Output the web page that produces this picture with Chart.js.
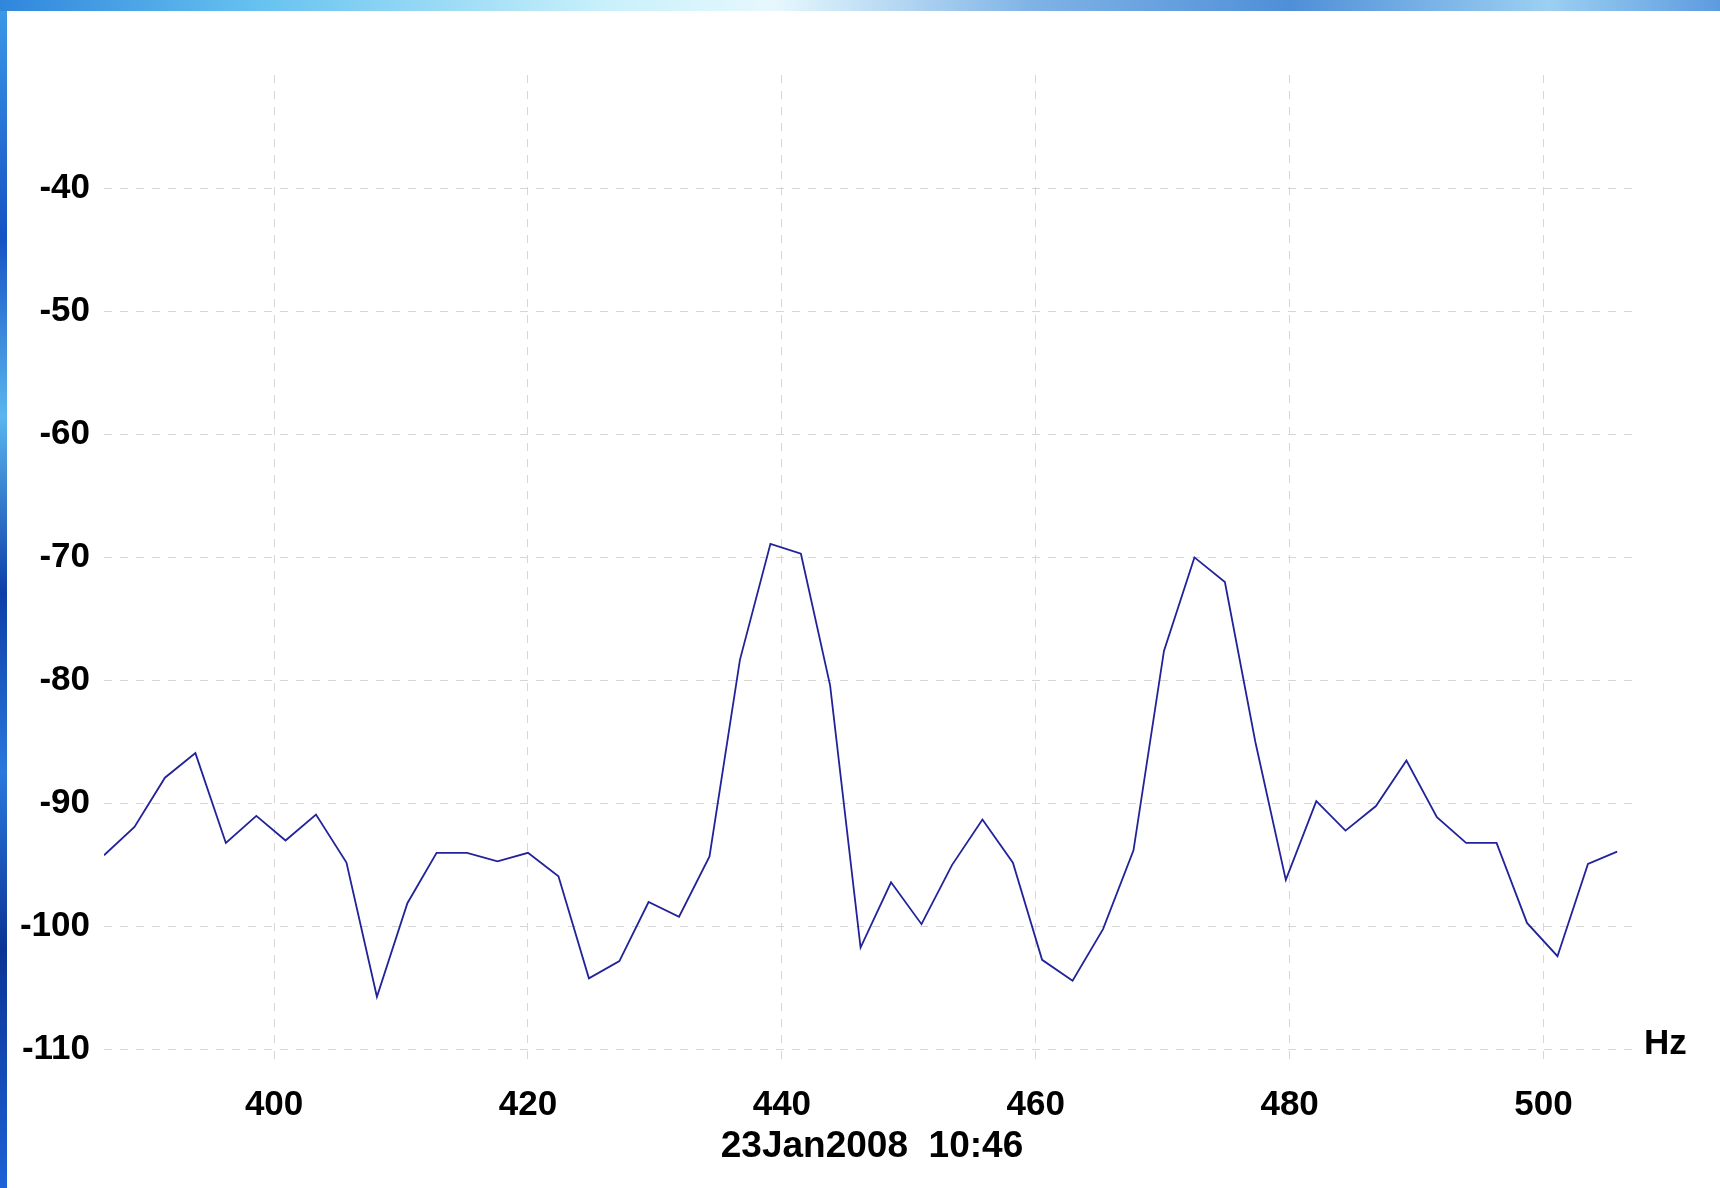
<!DOCTYPE html>
<html>
<head>
<meta charset="utf-8">
<script src="https://cdn.jsdelivr.net/npm/chart.js@4.4.0/dist/chart.umd.min.js"></script>
<style>
  html, body { margin: 0; padding: 0; }
  body {
    width: 1720px; height: 1188px; overflow: hidden; position: relative;
    background: linear-gradient(180deg, #3d9be8 0%, #1552c4 20%, #5ab6ee 35%, #0c3ea8 50%, #2a78dc 65%, #0a3494 80%, #1d62d6 100%);
  }
  #topstrip {
    position: absolute; left: 0; top: 0; width: 1720px; height: 11px;
    background: linear-gradient(90deg, #2f86dc 0%, #66c2f0 15%, #c8f0fb 35%, #e6f8fd 45%, #7fb3e6 60%, #4f8fd8 75%, #9cd0f2 90%, #5d9be0 100%);
  }
  #panel { position: absolute; left: 7px; top: 11px; right: 0; bottom: 0; background: #fff; }
  #wrap { position: absolute; left: 0; top: 0; width: 1720px; height: 1188px; }
</style>
</head>
<body>
<div id="topstrip"></div>
<div id="panel"></div>
<div id="wrap"><canvas id="spectrum"></canvas></div>
<script>
// valori (Hz, dB)
const freqs = [386.6, 389.0, 391.4, 393.8, 396.2, 398.6, 400.9, 403.3, 405.7, 408.1,
  410.5, 412.8, 415.2, 417.6, 420.0, 422.4, 424.8, 427.2, 429.5, 431.9,
  434.3, 436.7, 439.1, 441.5, 443.8, 446.2, 448.6, 451.0, 453.4, 455.8,
  458.2, 460.5, 462.9, 465.3, 467.7, 470.1, 472.5, 474.9, 477.3, 479.7,
  482.1, 484.4, 486.8, 489.2, 491.6, 493.9, 496.3, 498.7, 501.1, 503.5, 505.8];

const levels = [-94.2, -91.9, -87.9, -85.9, -93.2, -91.0, -93.0, -90.9, -94.8, -105.7,
  -98.1, -94.0, -94.0, -94.7, -94.0, -95.9, -104.2, -102.8, -98.0, -99.2,
  -94.3, -78.3, -68.9, -69.7, -80.4, -101.7, -96.4, -99.8, -95.0, -91.3,
  -94.8, -102.7, -104.4, -100.2, -93.8, -77.6, -70.0, -72.0, -85.0, -96.2,
  -89.8, -92.2, -90.2, -86.5, -91.1, -93.2, -93.2, -99.7, -102.4, -94.9, -93.9];

const xTicks = [400, 420, 440, 460, 480, 500];
const yTicks = [-40, -50, -60, -70, -80, -90, -100, -110];

const dateLabel = '23Jan2008  10:46';
const unitLabel = 'Hz';

const tickFont = { family: 'Liberation Sans, Arial, sans-serif', weight: 'bold', size: 35 };

/* scritta "Hz" a destra della griglia */
const unitPlugin = {
  id: 'unitLabel',
  afterDraw(chart) {
    const ctx = chart.ctx;
    const y = chart.scales.y.getPixelForValue(-110);
    ctx.save();
    ctx.font = 'bold 35px Liberation Sans, Arial, sans-serif';
    ctx.fillStyle = '#000';
    ctx.textAlign = 'left';
    ctx.textBaseline = 'alphabetic';
    ctx.fillText(unitLabel, chart.chartArea.right + 4, y + 4);
    ctx.restore();
  }
};

const ctx = document.getElementById('spectrum');

const data = {
  datasets: [{
    label: 'level',
    data: freqs.map((f, i) => ({ x: f, y: levels[i] })),
    borderColor: '#22229a',
    borderWidth: 1.8,
    pointRadius: 0,
    tension: 0,
    fill: false
  }]
};

const config = {
  type: 'line',
  data: data,
  options: {
    responsive: true,
    maintainAspectRatio: false,
    animation: false,
    layout: { padding: { top: 75, right: 80, left: 0, bottom: 0 } },
    plugins: {
      legend: { display: false },
      tooltip: { enabled: false }
    },
    scales: {
      x: {
        type: 'linear',
        min: 386.6,
        max: 507.6,
        afterBuildTicks: s => { s.ticks = xTicks.map(v => ({ value: v })); },
        afterFit: s => { s.height = 126; },
        grid: { color: '#d6d6d6', lineWidth: 1, drawTicks: false },
        border: { display: false, dash: [8, 8] },
        ticks: { color: '#000', font: tickFont, padding: 22, maxRotation: 0 },
        title: {
          display: true,
          text: dateLabel,
          color: '#000',
          font: { family: 'Liberation Sans, Arial, sans-serif', weight: 'bold', size: 37 },
          padding: { top: 0, bottom: 19 }
        }
      },
      y: {
        type: 'linear',
        min: -111,
        max: -30.8,
        afterBuildTicks: s => { s.ticks = yTicks.map(v => ({ value: v })); },
        afterFit: s => { s.width = 104; },
        grid: { color: '#d6d6d6', lineWidth: 1, drawTicks: false },
        border: { display: false, dash: [8, 8] },
        ticks: { color: '#000', font: tickFont, padding: 14 }
      }
    }
  },
  plugins: [unitPlugin]
};

const myChart = new Chart(ctx, config);
</script>
</body>
</html>
